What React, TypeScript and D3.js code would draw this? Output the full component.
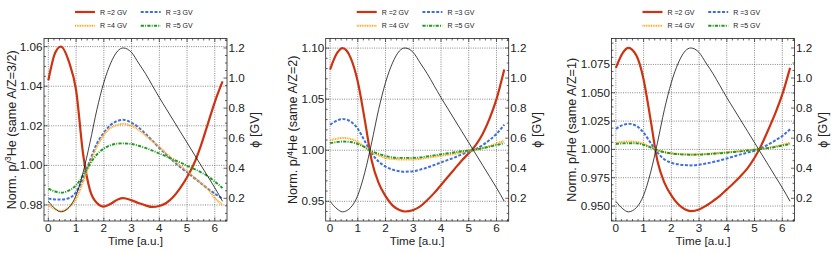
import React from "react";
import * as d3 from "d3";

// time grid (a.u.) shared by every curve
const TIME = [0, 0.25, 0.45, 0.75, 1.0, 1.25, 1.5, 1.75, 2.0, 2.25, 2.5, 2.7, 3.0, 3.25, 3.5, 3.75, 4.0, 4.25, 4.5, 4.75, 5.0, 5.25, 5.5, 5.75, 6.0, 6.28];

// modulation potential phi [GV] (right axis, black)
const PHI = [0.18, 0.13, 0.11, 0.14, 0.22, 0.37, 0.57, 0.79, 0.97, 1.1, 1.18, 1.2, 1.17, 1.1, 1.03, 0.95, 0.87, 0.795, 0.72, 0.645, 0.57, 0.495, 0.42, 0.345, 0.27, 0.18];

// panel 1: p/3He
const RED1 = [1.043, 1.057, 1.06, 1.052, 1.038, 1.006, 0.9875, 0.981, 0.9792, 0.9806, 0.9828, 0.9835, 0.9823, 0.981, 0.9798, 0.979, 0.9795, 0.981, 0.984, 0.9885, 0.994, 1.0008, 1.01, 1.021, 1.032, 1.0424];
const BLUE1 = [0.9832, 0.9828, 0.9827, 0.9835, 0.9865, 0.9933, 1.0025, 1.011, 1.0165, 1.0205, 1.0225, 1.023, 1.0215, 1.0192, 1.016, 1.0125, 1.0088, 1.0055, 1.0022, 0.9992, 0.9965, 0.9937, 0.991, 0.9882, 0.9857, 0.9832];
const ORANGE1 = [0.9801, 0.9778, 0.9769, 0.979, 0.9832, 0.9916, 1.0012, 1.0095, 1.0155, 1.019, 1.0205, 1.021, 1.0199, 1.018, 1.0152, 1.0122, 1.0093, 1.006, 1.0028, 0.9998, 0.997, 0.994, 0.991, 0.988, 0.9835, 0.98];
const GREEN1 = [0.9882, 0.9868, 0.9862, 0.9874, 0.9899, 0.995, 1.0008, 1.0055, 1.0085, 1.0102, 1.011, 1.0111, 1.0108, 1.0099, 1.0088, 1.0075, 1.006, 1.0045, 1.003, 1.0015, 0.9998, 0.9982, 0.9965, 0.9945, 0.9918, 0.9886];

// panel 2: p/4He
const RED2 = [1.079, 1.095, 1.1, 1.09, 1.067, 1.03, 0.99, 0.968, 0.955, 0.946, 0.9415, 0.94, 0.9415, 0.945, 0.951, 0.958, 0.966, 0.974, 0.982, 0.99, 0.997, 1.005, 1.016, 1.031, 1.05, 1.079];
const BLUE2 = [1.025, 1.029, 1.0305, 1.028, 1.021, 1.009, 0.997, 0.989, 0.984, 0.981, 0.9795, 0.979, 0.9795, 0.981, 0.983, 0.9855, 0.988, 0.9905, 0.993, 0.996, 0.9985, 1.001, 1.005, 1.01, 1.016, 1.025];
const ORANGE2 = [1.0095, 1.0113, 1.012, 1.011, 1.008, 1.003, 0.998, 0.995, 0.9925, 0.9915, 0.991, 0.991, 0.991, 0.9915, 0.9925, 0.9935, 0.9945, 0.9955, 0.9965, 0.9978, 0.999, 1.0005, 1.002, 1.004, 1.0065, 1.0095];
const GREEN2 = [1.007, 1.008, 1.0085, 1.008, 1.006, 1.003, 0.999, 0.9965, 0.9945, 0.993, 0.9925, 0.9925, 0.9925, 0.993, 0.994, 0.995, 0.996, 0.997, 0.998, 0.999, 0.9998, 1.0008, 1.002, 1.0035, 1.005, 1.007];

// panel 3: p/He
const RED3 = [1.072, 1.0853, 1.0897, 1.0824, 1.0618, 1.0265, 0.9897, 0.9706, 0.9594, 0.9515, 0.947, 0.9456, 0.947, 0.9503, 0.9544, 0.959, 0.9647, 0.9703, 0.9765, 0.9835, 0.9926, 1.004, 1.0176, 1.032, 1.0485, 1.072];
const BLUE3 = [1.0182, 1.0215, 1.0226, 1.0206, 1.0147, 1.0059, 0.9971, 0.9912, 0.9882, 0.9868, 0.9862, 0.9859, 0.9865, 0.9875, 0.9888, 0.9903, 0.992, 0.9938, 0.9956, 0.9972, 0.9988, 1.0013, 1.0044, 1.008, 1.0118, 1.0178];
const ORANGE3 = [1.0059, 1.0067, 1.007, 1.0066, 1.0048, 1.0022, 0.9992, 0.9975, 0.9965, 0.996, 0.9957, 0.9956, 0.9957, 0.996, 0.9965, 0.997, 0.9975, 0.998, 0.9986, 0.9992, 0.9998, 1.0004, 1.0013, 1.0025, 1.004, 1.0059];
const GREEN3 = [1.0048, 1.0053, 1.0055, 1.0053, 1.004, 1.0018, 0.9993, 0.9976, 0.9965, 0.9958, 0.9954, 0.9953, 0.9954, 0.9957, 0.9961, 0.9966, 0.9971, 0.9977, 0.9983, 0.999, 0.9997, 1.0004, 1.0012, 1.0022, 1.0034, 1.0048];

const LEGEND_LABELS = ["R =2 GV", "R =3 GV", "R =4 GV", "R =5 GV"];
const X_TICKS = [0, 1, 2, 3, 4, 5, 6];
const PHI_TICKS = [0.2, 0.4, 0.6, 0.8, 1.0, 1.2];

const P1_TICKS = [0.98, 1.0, 1.02, 1.04, 1.06];
const P2_TICKS = [0.95, 1.0, 1.05, 1.1];
const P3_TICKS = [0.95, 0.975, 1.0, 1.025, 1.05, 1.075];

const FONT = "'Liberation Sans', Arial, Helvetica, sans-serif";
const TOP = 38.5;
const BOTTOM = 221;
const PW = 183;
const X_DOMAIN: [number, number] = [-0.157, 6.44];
const PHI_DOMAIN: [number, number] = [0.049, 1.263];

const STYLES = [
  { color: "#cc3311", width: 2.2, dash: "none" },
  { color: "#3f6fdc", width: 2, dash: "3,1.6" },
  { color: "#ffa520", width: 2, dash: "1,0.7" },
  { color: "#1f9a1f", width: 1.9, dash: "3.2,1.2,1,1.2" },
];

const minorTicks = (domain: [number, number], step: number, majors: number[]) =>
  d3
    .range(Math.ceil(domain[0] / step) * step, domain[1], step)
    .map((v) => +v.toFixed(6))
    .filter((v) => v >= domain[0] && v <= domain[1] && !majors.some((m) => Math.abs(m - v) < step / 10));

interface PanelProps {
  left: number;
  yDomain: [number, number];
  yTicks: number[];
  yFmt: string;
  yMinor: number;
  labelX: number;
  ylabel: React.ReactNode;
  series: number[][];
}

const Panel: React.FC<PanelProps> = ({ left, yDomain, yTicks, yFmt, yMinor, labelX, ylabel, series }) => {
  const right = left + PW;
  const x = d3.scaleLinear().domain(X_DOMAIN).range([left, right]);
  const y = d3.scaleLinear().domain(yDomain).range([BOTTOM, TOP]);
  const yr = d3.scaleLinear().domain(PHI_DOMAIN).range([BOTTOM, TOP]);
  const fmt = d3.format(yFmt);

  const line = (vals: number[], sc: d3.ScaleLinear<number, number>) =>
    d3
      .line<number>()
      .x((_, i) => x(TIME[i]))
      .y((d) => sc(d))
      .curve(d3.curveMonotoneX)(vals) as string;

  const xMinor = minorTicks(X_DOMAIN, 0.2, X_TICKS);
  const yMin = minorTicks(yDomain, yMinor, yTicks);
  const rMin = minorTicks(PHI_DOMAIN, 0.05, PHI_TICKS);

  const cx = left + PW / 2;
  const legLeft = cx - 60.5;

  return (
    <g>
      {/* grid */}
      <g stroke="#555" strokeWidth={0.7} strokeDasharray="1,1.3">
        {X_TICKS.map((t) => (
          <line key={"gx" + t} x1={x(t)} x2={x(t)} y1={TOP} y2={BOTTOM} />
        ))}
        {yTicks.map((t) => (
          <line key={"gy" + t} x1={left} x2={right} y1={y(t)} y2={y(t)} />
        ))}
      </g>

      {/* ratio curves */}
      {series.map((s, i) => (
        <path
          key={i}
          d={line(s, y)}
          fill="none"
          stroke={STYLES[i].color}
          strokeWidth={STYLES[i].width}
          strokeDasharray={STYLES[i].dash}
        />
      ))}
      {/* phi */}
      <path d={line(PHI, yr)} fill="none" stroke="#111" strokeWidth={0.8} />

      {/* frame and ticks */}
      <rect x={left} y={TOP} width={PW} height={BOTTOM - TOP} fill="none" stroke="#222" strokeWidth={0.8} />
      <g stroke="#222" strokeWidth={0.7}>
        {X_TICKS.map((t) => (
          <g key={"xt" + t}>
            <line x1={x(t)} x2={x(t)} y1={BOTTOM} y2={BOTTOM - 3.5} />
            <line x1={x(t)} x2={x(t)} y1={TOP} y2={TOP + 3.5} />
          </g>
        ))}
        {xMinor.map((t) => (
          <g key={"xm" + t}>
            <line x1={x(t)} x2={x(t)} y1={BOTTOM} y2={BOTTOM - 2} />
            <line x1={x(t)} x2={x(t)} y1={TOP} y2={TOP + 2} />
          </g>
        ))}
        {yTicks.map((t) => (
          <line key={"yt" + t} x1={left} x2={left + 3.5} y1={y(t)} y2={y(t)} />
        ))}
        {yMin.map((t) => (
          <line key={"ym" + t} x1={left} x2={left + 2} y1={y(t)} y2={y(t)} />
        ))}
        {PHI_TICKS.map((t) => (
          <line key={"rt" + t} x1={right} x2={right - 3.5} y1={yr(t)} y2={yr(t)} />
        ))}
        {rMin.map((t) => (
          <line key={"rm" + t} x1={right} x2={right - 2} y1={yr(t)} y2={yr(t)} />
        ))}
      </g>

      {/* tick labels */}
      <g fontFamily={FONT} fontSize={11.7} fill="#222">
        {X_TICKS.map((t) => (
          <text key={"xl" + t} x={x(t)} y={BOTTOM + 10.8} textAnchor="middle">
            {t}
          </text>
        ))}
        {yTicks.map((t) => (
          <text key={"yl" + t} x={left - 1.5} y={y(t) + 4} textAnchor="end">
            {fmt(t)}
          </text>
        ))}
        {PHI_TICKS.map((t) => (
          <text key={"rl" + t} x={right + 1.5} y={yr(t) + 4} textAnchor="start">
            {t.toFixed(1)}
          </text>
        ))}
        <text x={cx} y={245} textAnchor="middle">
          Time [a.u.]
        </text>
        <text
          transform={`translate(${labelX},${(TOP + BOTTOM) / 2}) rotate(-90)`}
          textAnchor="middle"
          dy="0.35em"
          fontSize={12.6}
        >
          {ylabel}
        </text>
        <text
          transform={`translate(${right + 28},${(TOP + BOTTOM) / 2}) rotate(-90)`}
          textAnchor="middle"
          dy="0.35em"
          fontSize={12.6}
        >
          ϕ [GV]
        </text>
      </g>

      {/* legend */}
      <g fontFamily={FONT} fontSize={7} fill="#222">
        {LEGEND_LABELS.map((lab, i) => {
          const lx = legLeft + (i % 2) * 65.7;
          const ly = i < 2 ? 12 : 25.7;
          return (
            <g key={lab}>
              <line
                x1={lx}
                x2={lx + 20}
                y1={ly}
                y2={ly}
                stroke={STYLES[i].color}
                strokeWidth={STYLES[i].width}
                strokeDasharray={STYLES[i].dash}
              />
              <text x={lx + 25} y={ly + 2.5}>
                {lab}
              </text>
            </g>
          );
        })}
      </g>
    </g>
  );
};

const sup = (s: string) => (
  <tspan fontSize={8.5} dy={-4.5}>
    {s}
  </tspan>
);

export default function App() {
  return (
    <svg
      width={831}
      height={253}
      style={{ position: "absolute", left: 0, top: 0, background: "#fff" }}
    >
      <Panel
        left={44}
        yDomain={[0.9719, 1.0641]}
        yTicks={P1_TICKS}
        yFmt=".2f"
        yMinor={0.005}
        labelX={11.5}
        ylabel={
          <>
            Norm. p/{sup("3")}
            <tspan dy={4.5}>He (same A/Z=3/2)</tspan>
          </>
        }
        series={[RED1, BLUE1, ORANGE1, GREEN1]}
      />
      <Panel
        left={325.7}
        yDomain={[0.9307, 1.1094]}
        yTicks={P2_TICKS}
        yFmt=".2f"
        yMinor={0.01}
        labelX={293}
        ylabel={
          <>
            Norm. p/{sup("4")}
            <tspan dy={4.5}>He (same A/Z=2)</tspan>
          </>
        }
        series={[RED2, BLUE2, ORANGE2, GREEN2]}
      />
      <Panel
        left={611.5}
        yDomain={[0.9368, 1.0979]}
        yTicks={P3_TICKS}
        yFmt=".3f"
        yMinor={0.00625}
        labelX={572}
        ylabel={<>Norm. p/He (same A/Z=1)</>}
        series={[RED3, BLUE3, ORANGE3, GREEN3]}
      />
    </svg>
  );
}
